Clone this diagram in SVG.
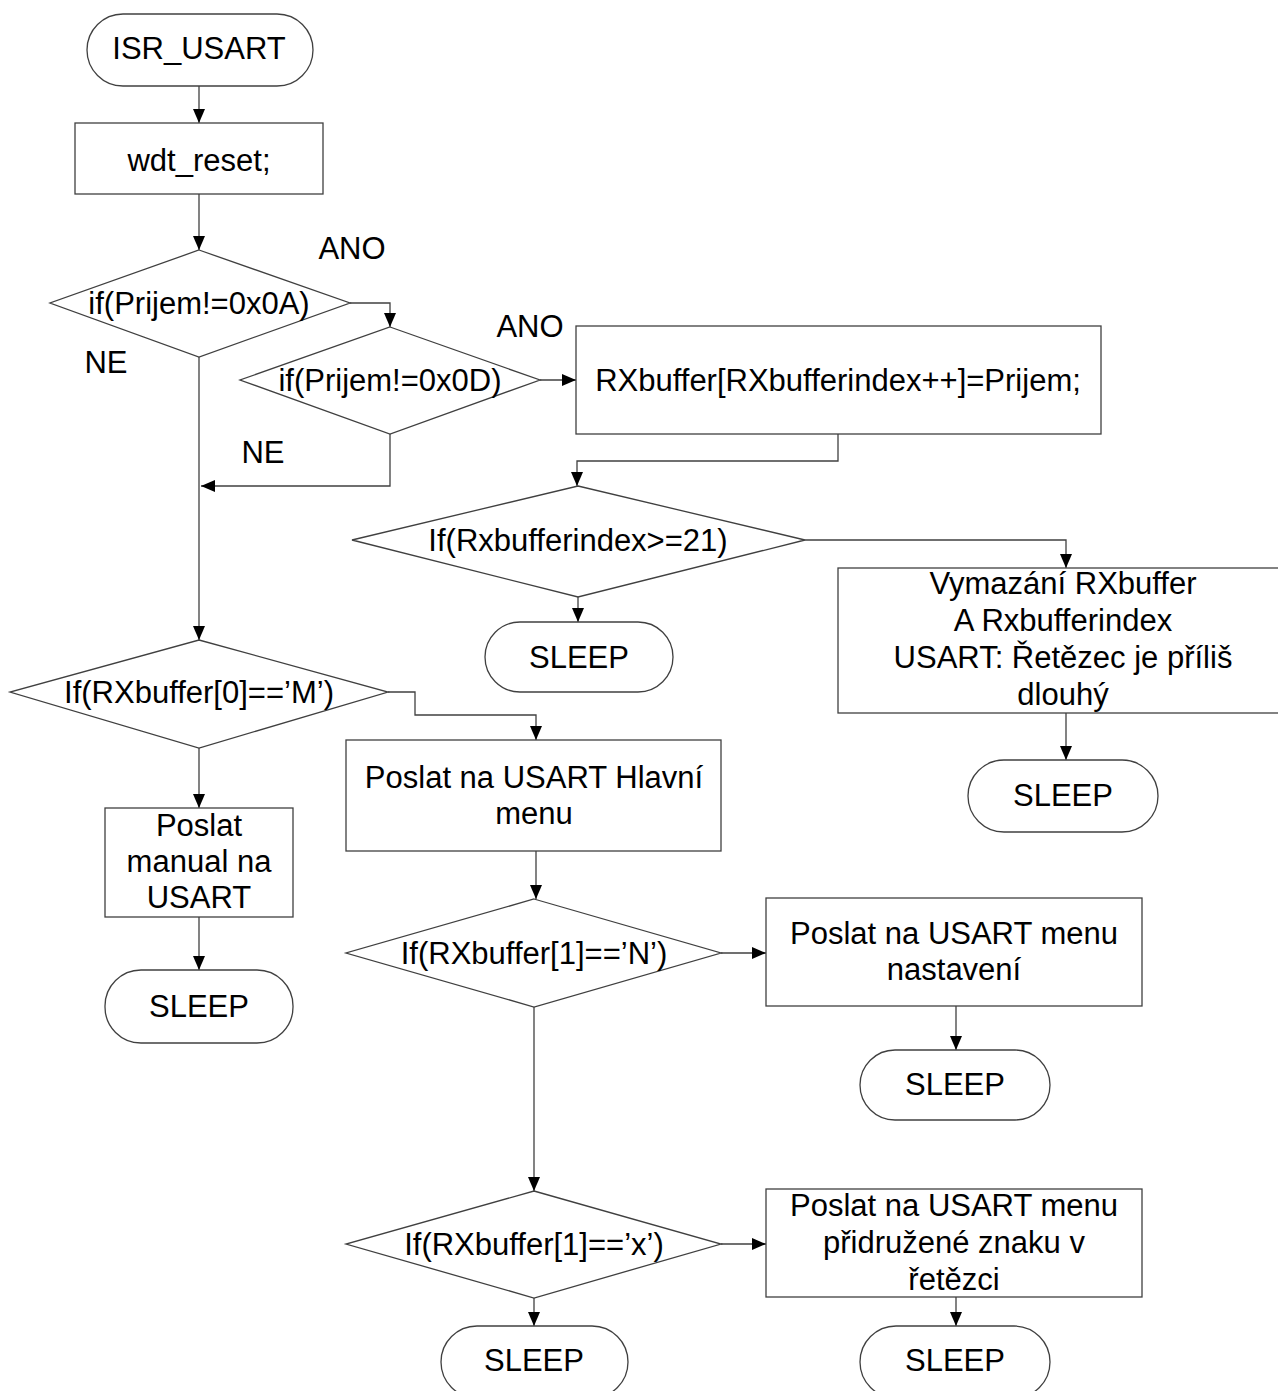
<svg xmlns="http://www.w3.org/2000/svg" width="1278" height="1391" viewBox="0 0 1278 1391">
<defs>
<marker id="arr" markerUnits="userSpaceOnUse" markerWidth="16" markerHeight="14" refX="14" refY="6" orient="auto"><path d="M0,0 L14,6 L0,12 z" fill="#000"/></marker>
<style>
.s{fill:#fff;stroke:#404040;stroke-width:1.3}
.c{fill:none;stroke:#404040;stroke-width:1.3;marker-end:url(#arr)}
text{font-family:"Liberation Sans",Arial,sans-serif;font-size:31px;fill:#000;text-anchor:middle}
</style>
</defs>
<rect width="1278" height="1391" fill="#fff"/>
<g id="connectors">
<path class="c" d="M199,86 V123"/>
<path class="c" d="M199,194 V250"/>
<path class="c" d="M350,303 H390 V327"/>
<path class="c" d="M540,380 H576"/>
<path class="c" d="M390,434 V486 H201"/>
<path class="c" d="M199,357 V640"/>
<path class="c" d="M838,434 V461 H577 V486"/>
<path class="c" d="M805,540 H1066 V568"/>
<path class="c" d="M578,597 V622"/>
<path class="c" d="M1066,713 V760"/>
<path class="c" d="M388,692 H415 V715 H536 V740"/>
<path class="c" d="M199,748 V808"/>
<path class="c" d="M199,917 V970"/>
<path class="c" d="M536,851 V899"/>
<path class="c" d="M721,953 H766"/>
<path class="c" d="M956,1006 V1050"/>
<path class="c" d="M534,1007 V1191"/>
<path class="c" d="M721,1244 H766"/>
<path class="c" d="M956,1297 V1326"/>
<path class="c" d="M534,1298 V1326"/>
</g>
<g id="n_start"><rect class="s" x="87" y="14" width="226" height="72" rx="36"/><text x="199" y="59">ISR_USART</text></g>
<g id="n_wdt"><rect class="s" x="75" y="123" width="248" height="71"/><text x="199" y="171">wdt_reset;</text></g>
<g id="n_d1"><polygon class="s" points="199,250 350,303 199,357 50,303"/><text x="199" y="314">if(Prijem!=0x0A)</text></g>
<g id="n_d2"><polygon class="s" points="390,327 540,380 390,434 240,380"/><text x="390" y="391">if(Prijem!=0x0D)</text></g>
<g id="n_rx"><rect class="s" x="576" y="326" width="525" height="108"/><text x="838" y="391">RXbuffer[RXbufferindex++]=Prijem;</text></g>
<g id="n_d4"><polygon class="s" points="578,486 805,540 578,597 352,540"/><text x="578" y="551">If(Rxbufferindex&gt;=21)</text></g>
<g id="n_vym"><rect class="s" x="838" y="568" width="445" height="145"/><text x="1063" y="594">Vymazání RXbuffer</text><text x="1063" y="631">A Rxbufferindex</text><text x="1063" y="668">USART: Řetězec je příliš</text><text x="1063" y="705">dlouhý</text></g>
<g id="n_sleep1"><rect class="s" x="485" y="622" width="188" height="70" rx="35"/><text x="579" y="668">SLEEP</text></g>
<g id="n_sleep2"><rect class="s" x="968" y="760" width="190" height="72" rx="36"/><text x="1063" y="806">SLEEP</text></g>
<g id="n_d3"><polygon class="s" points="199,640 388,692 199,748 10,692"/><text x="199" y="703">If(RXbuffer[0]==’M’)</text></g>
<g id="n_hlavni"><rect class="s" x="346" y="740" width="375" height="111"/><text x="534" y="788">Poslat na USART Hlavní</text><text x="534" y="824">menu</text></g>
<g id="n_manual"><rect class="s" x="105" y="808" width="188" height="109"/><text x="199" y="836">Poslat</text><text x="199" y="872">manual na</text><text x="199" y="908">USART</text></g>
<g id="n_sleep3"><rect class="s" x="105" y="970" width="188" height="73" rx="36"/><text x="199" y="1017">SLEEP</text></g>
<g id="n_d5"><polygon class="s" points="534,899 721,953 534,1007 346,953"/><text x="534" y="964">If(RXbuffer[1]==’N’)</text></g>
<g id="n_nast"><rect class="s" x="766" y="898" width="376" height="108"/><text x="954" y="944">Poslat na USART menu</text><text x="954" y="980">nastavení</text></g>
<g id="n_sleep4"><rect class="s" x="860" y="1050" width="190" height="70" rx="35"/><text x="955" y="1095">SLEEP</text></g>
<g id="n_d6"><polygon class="s" points="534,1191 721,1244 534,1298 346,1244"/><text x="534" y="1255">If(RXbuffer[1]==’x’)</text></g>
<g id="n_prid"><rect class="s" x="766" y="1189" width="376" height="108"/><text x="954" y="1216">Poslat na USART menu</text><text x="954" y="1253">přidružené znaku v</text><text x="954" y="1290">řetězci</text></g>
<g id="n_sleep5"><rect class="s" x="441" y="1326" width="187" height="72" rx="36"/><text x="534" y="1371">SLEEP</text></g>
<g id="n_sleep6"><rect class="s" x="860" y="1326" width="190" height="72" rx="36"/><text x="955" y="1371">SLEEP</text></g>
<g id="labels">
<text x="352" y="259">ANO</text>
<text x="106" y="373">NE</text>
<text x="530" y="337">ANO</text>
<text x="263" y="463">NE</text>
</g>
</svg>
